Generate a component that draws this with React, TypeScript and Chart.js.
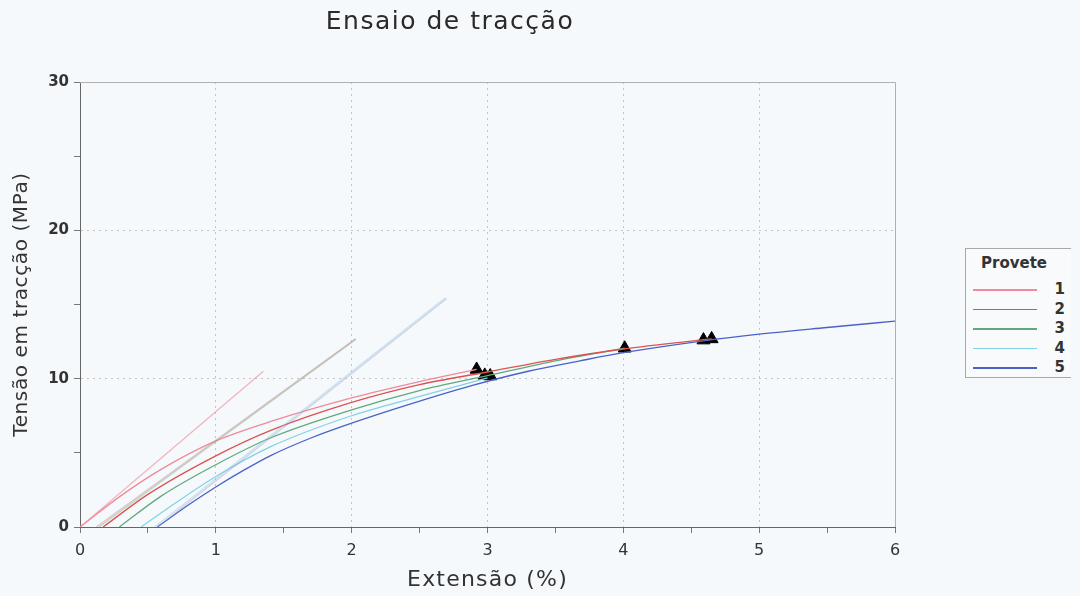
import React, { useEffect, useRef } from "react";
import { Chart, registerables } from "chart.js";

Chart.register(...registerables);

const chartTitle = "Ensaio de tracção";
const xAxisTitle = "Extensão (%)";
const yAxisTitle = "Tensão em tracção (MPa)";
const legendTitle = "Provete";

const specimenLabels = ["1", "2", "3", "4", "5"];
const specimenColors = ["#ee8a9a", "#d9544f", "#62a87c", "#82d2e6", "#4a62c8"];
const modulusColors = [
  "rgba(240,150,165,0.7)",
  "rgba(190,150,140,0.5)",
  "rgba(140,170,150,0.5)",
  "rgba(140,195,225,0.45)",
  "rgba(150,150,190,0.4)",
];

// Stress-strain curves (x = extensão %, y = tensão MPa)
const s1x = [0, 0.3, 0.6, 1.0, 1.4, 2.0, 2.5, 2.92];
const s1y = [0, 2.1, 3.9, 5.8, 7.1, 8.7, 9.8, 10.62];
const s2x = [0.17, 0.5, 1.0, 1.4, 2.0, 2.5, 3.0, 3.5, 4.0, 4.65];
const s2y = [0, 2.2, 4.8, 6.5, 8.4, 9.6, 10.45, 11.3, 12.0, 12.68];
const s3x = [0.29, 0.6, 1.0, 1.4, 2.0, 2.5, 3.0, 3.5, 4.01];
const s3y = [0, 2.1, 4.2, 6.0, 7.9, 9.2, 10.2, 11.2, 12.05];
const s4x = [0.45, 0.7, 1.0, 1.4, 2.0, 2.5, 3.0];
const s4y = [0, 1.6, 3.4, 5.4, 7.5, 8.8, 10.05];
const s5x = [0.57, 0.8, 1.0, 1.2, 1.4, 1.7, 2.0, 2.4, 2.87, 3.3, 3.68, 4.0, 4.59, 5.0, 5.5, 6.0];
const s5y = [0, 1.5, 2.7, 3.8, 4.8, 6.0, 7.0, 8.2, 9.5, 10.5, 11.2, 11.75, 12.55, 13.0, 13.45, 13.88];

// Modulus (straight) lines per specimen
const m1x = [0, 1.35];
const m1y = [0, 10.5];
const m2x = [0.12, 2.03];
const m2y = [0, 12.7];
const m3x = [0.14, 2.03];
const m3y = [0, 12.65];
const m4x = [0.55, 2.69];
const m4y = [0, 15.45];
const m5x = [0.57, 2.7];
const m5y = [0, 15.4];

// Break markers
const markX = [2.92, 2.98, 3.02, 4.01, 4.59, 4.65];
const markY = [10.62, 10.22, 10.18, 12.05, 12.6, 12.68];

const curvesX = [s1x, s2x, s3x, s4x, s5x];
const curvesY = [s1y, s2y, s3y, s4y, s5y];
const modX = [m1x, m2x, m3x, m4x, m5x];
const modY = [m1y, m2y, m3y, m4y, m5y];

const zip = (xs: number[], ys: number[]) => xs.map((x, i) => ({ x, y: ys[i] }));

const FONT = "'DejaVu Sans', Verdana, sans-serif";

const framePlugin = {
  id: "frameAndTitle",
  beforeDatasetsDraw(chart: any) {
    const { ctx, chartArea } = chart;
    ctx.save();
    ctx.strokeStyle = "#b0b0b0";
    ctx.lineWidth = 1;
    ctx.beginPath();
    ctx.moveTo(chartArea.left, chartArea.top + 0.5);
    ctx.lineTo(chartArea.right + 0.5, chartArea.top + 0.5);
    ctx.lineTo(chartArea.right + 0.5, chartArea.bottom);
    ctx.stroke();
    ctx.restore();
  },
  afterDraw(chart: any) {
    const { ctx, chartArea } = chart;
    ctx.save();
    ctx.fillStyle = "#2a2a2a";
    ctx.textAlign = "center";
    ctx.textBaseline = "middle";
    (ctx as any).letterSpacing = "1.5px";
    ctx.font = `25px ${FONT}`;
    ctx.fillText(chartTitle, 450, 22);
    ctx.fillStyle = "#333";
    (ctx as any).letterSpacing = "1.2px";
    ctx.font = `22px ${FONT}`;
    ctx.fillText(xAxisTitle, (chartArea.left + chartArea.right) / 2, 580);
    (ctx as any).letterSpacing = "0.6px";
    ctx.font = `20px ${FONT}`;
    ctx.translate(22, (chartArea.top + chartArea.bottom) / 2);
    ctx.rotate(-Math.PI / 2);
    ctx.fillText(yAxisTitle, 0, 0);
    ctx.restore();
  },
};

export default function App() {
  const ref = useRef<HTMLCanvasElement | null>(null);

  useEffect(() => {
    if (!ref.current) return;
    const datasets: any[] = [];
    modX.forEach((xs, i) => {
      datasets.push({
        type: "scatter",
        label: "mod" + specimenLabels[i],
        data: zip(xs, modY[i]),
        showLine: true,
        borderColor: modulusColors[i],
        borderWidth: 1.3,
        pointRadius: 0,
        fill: false,
      });
    });
    curvesX.forEach((xs, i) => {
      datasets.push({
        type: "scatter",
        label: specimenLabels[i],
        data: zip(xs, curvesY[i]),
        showLine: true,
        borderColor: specimenColors[i],
        borderWidth: 1.3,
        pointRadius: 0,
        cubicInterpolationMode: "monotone",
        fill: false,
      });
    });
    datasets.push({
      type: "scatter",
      label: "marks",
      data: zip(markX, markY),
      pointStyle: "triangle",
      pointRadius: 7.5,
      backgroundColor: "#000",
      borderColor: "#000",
      showLine: false,
    });

    const chart = new Chart(ref.current, {
      type: "scatter",
      data: { datasets },
      plugins: [framePlugin],
      options: {
        animation: false,
        responsive: true,
        maintainAspectRatio: false,
        layout: { padding: { top: 82, left: 0, right: 185, bottom: 0 } },
        plugins: {
          legend: { display: false },
          tooltip: { enabled: false },
          title: { display: false },
        },
        scales: {
          x: {
            type: "linear",
            min: 0,
            max: 6,
            afterFit: (s: any) => {
              s.height = 69;
            },
            ticks: {
              stepSize: 0.5,
              autoSkip: false,
              maxRotation: 0,
              padding: 8,
              color: "#333",
              font: { family: FONT, size: 16 },
              callback: (v: any) => (Number.isInteger(Number(v)) ? String(v) : ""),
            },
            grid: {
              color: (c: any) => {
                const v = c.tick ? c.tick.value : 0;
                return Number.isInteger(v) && v > 0 && v < 6 ? "#c4c4c4" : "rgba(0,0,0,0)";
              },
              tickColor: "#777",
              tickLength: 6,
              lineWidth: 1,
            },
            border: { display: true, color: "#666", width: 1, dash: [2, 4] },
            title: { display: false },
          },
          y: {
            type: "linear",
            min: 0,
            max: 30,
            afterFit: (s: any) => {
              s.width = 80;
            },
            ticks: {
              stepSize: 5,
              autoSkip: false,
              padding: 5,
              color: "#333",
              font: { family: FONT, size: 15, weight: "bold" },
              callback: (v: any) => (Number(v) % 10 === 0 ? String(v) : ""),
            },
            grid: {
              color: (c: any) => {
                const v = c.tick ? c.tick.value : 0;
                return v === 10 || v === 20 ? "#c4c4c4" : "rgba(0,0,0,0)";
              },
              tickColor: "#777",
              tickLength: 6,
              lineWidth: 1,
            },
            border: { display: true, color: "#666", width: 1, dash: [2, 4] },
            title: { display: false },
          },
        },
      } as any,
    });
    return () => chart.destroy();
  }, []);

  return (
    <div
      style={{
        position: "fixed",
        left: 0,
        top: 0,
        width: 1080,
        height: 596,
        background: "#f6f9fc",
        fontFamily: FONT,
      }}
    >
      <canvas ref={ref} style={{ width: 1080, height: 596, display: "block" }} />
      <div
        style={{
          position: "absolute",
          left: 965,
          top: 248,
          width: 106,
          height: 130,
          border: "1px solid #a8a8a8",
          borderRight: "none",
          boxSizing: "border-box",
          background: "#f8fafc",
        }}
      >
        <div
          style={{
            position: "absolute",
            left: 15,
            top: 5,
            fontSize: 15,
            fontWeight: "bold",
            color: "#333",
          }}
        >
          {legendTitle}
        </div>
        {specimenLabels.map((lab, i) => (
          <div key={lab}>
            <div
              style={{
                position: "absolute",
                left: 7,
                top: 40 + i * 19.6,
                width: 64,
                height: 1.5,
                background: specimenColors[i],
              }}
            />
            <div
              style={{
                position: "absolute",
                right: 6,
                top: 31 + i * 19.6,
                fontSize: 15,
                fontWeight: "bold",
                color: "#333",
                lineHeight: "18px",
              }}
            >
              {lab}
            </div>
          </div>
        ))}
      </div>
    </div>
  );
}
